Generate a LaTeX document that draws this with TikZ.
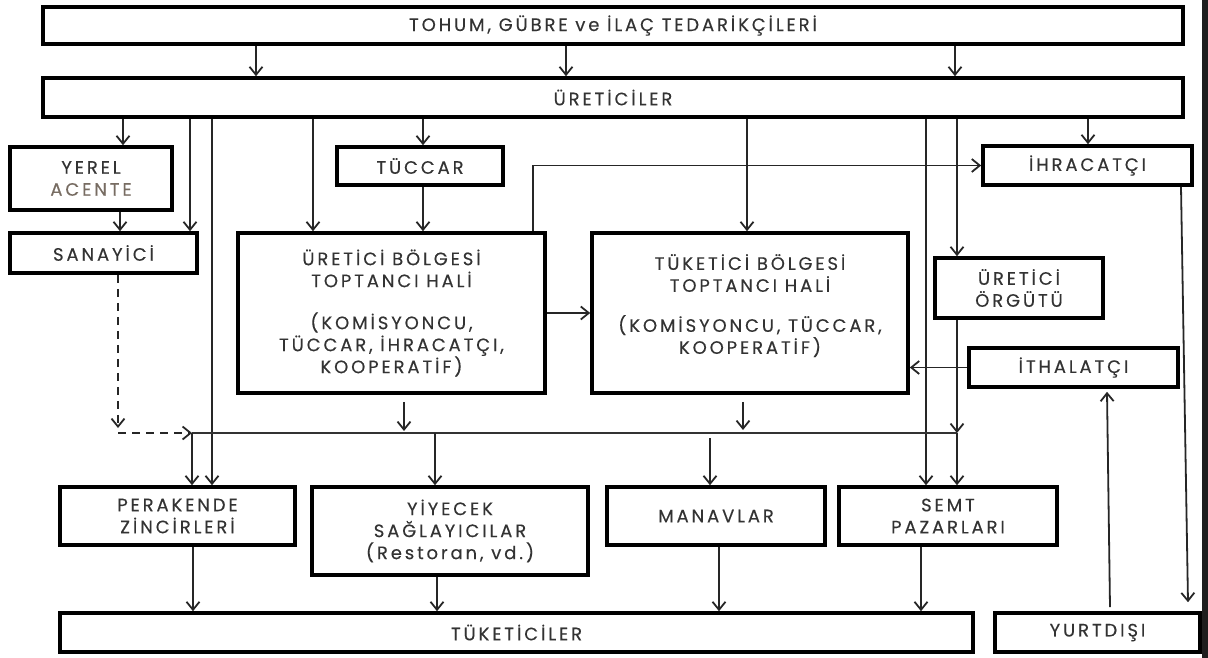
\documentclass[tikz,border=0pt]{standalone}
\usepackage{fontspec}
\setmainfont[LetterSpace=16,FakeBold=0.3]{Poppins}
\usepackage{tikz}
\usetikzlibrary{positioning,arrows.meta,calc}
\definecolor{inkdark}{HTML}{333333}
\definecolor{acentegray}{HTML}{776C62}
\definecolor{edgeband}{HTML}{1E1E1E}
\tikzset{
  >={Straight Barb[length=8pt,width=13pt]},
  every node/.style={font=\fontsize{18}{22}\selectfont, text=inkdark},
  kutu/.style={draw=black, line width=3.6pt, align=center, inner sep=1pt},
  flow/.style={->, line width=1.8pt, draw=black!85},
  dflow/.style={flow, dash pattern=on 8pt off 6pt},
  hat/.style={line width=1.2pt, draw=black!80},
}

\begin{document}
\begin{tikzpicture}[x=1pt, y=-1pt]
  \useasboundingbox (0,0) rectangle (1208,658);
  \fill[edgeband] (1202,0) rectangle (1208,658);

  % 1. TEDARIKCILER VE URETICILER
  \node[kutu, minimum width=1140pt, minimum height=37pt] (tedarik) at (613,25.5) {TOHUM, GÜBRE ve İLAÇ TEDARİKÇİLERİ};
  \node[kutu, minimum width=1140pt, minimum height=39pt] (uretici) at (613,97.5) {ÜRETİCİLER};

  % 2. ARACILAR
  \node[kutu, minimum width=162pt, minimum height=63pt] (acente) at (91,178.5) {YEREL\\ \textcolor{acentegray}{ACENTE}};
  \node[kutu, minimum width=166pt, minimum height=38pt] (tuccar) at (420,166) {TÜCCAR};
  \node[kutu, minimum width=209pt, minimum height=39pt] (ihr) at (1087.5,165.5) {İHRACATÇI};
  \node[kutu, minimum width=187pt, minimum height=40pt] (sanayi) at (103.5,253) {SANAYİCİ};

  % 3. TOPTANCI HALLERI
  \node[kutu, minimum width=307pt, minimum height=160pt] (ubh) at (391.5,313)
    {ÜRETİCİ BÖLGESİ\\ TOPTANCI HALİ\\[20pt] (KOMİSYONCU,\\ TÜCCAR, İHRACATÇI,\\ KOOPERATİF)};
  \node[kutu, minimum width=316pt, minimum height=160pt] (tbh) at (750,313)
    {TÜKETİCİ BÖLGESİ\\ TOPTANCI HALİ\\[18pt] (KOMİSYONCU, TÜCCAR,\\ KOOPERATİF)\\[-4pt] \mbox{}};
  \node[kutu, minimum width=168pt, minimum height=60pt] (orgut) at (1019,288) {ÜRETİCİ\\ ÖRGÜTÜ};
  \node[kutu, minimum width=209pt, minimum height=39pt] (ithal) at (1073.5,367.5) {İTHALATÇI};

  % 4. PERAKENDE SIRASI
  \node[kutu, minimum width=235pt, minimum height=58pt] (perak) at (177.5,516) {PERAKENDE\\ ZİNCİRLERİ};
  \node[kutu, minimum width=276pt, minimum height=88pt] (yiyecek) at (450,531) {YİYECEK\\ SAĞLAYICILAR\\ (Restoran, vd.)};
  \node[kutu, minimum width=218pt, minimum height=58pt] (manav) at (716,516) {MANAVLAR};
  \node[kutu, minimum width=218pt, minimum height=58pt] (semt) at (948,516) {SEMT\\ PAZARLARI};

  % 5. TUKETICILER VE YURTDISI
  \node[kutu, minimum width=913pt, minimum height=39pt] (tuket) at (516.5,632.5) {TÜKETİCİLER};
  \node[kutu, minimum width=205pt, minimum height=39pt] (yurt) at (1097.5,632.5) {YURTDIŞI};

  % dagitim hatti noktalari
  \coordinate (kose) at (118,433);
  \coordinate (hatsol) at (192,433);
  \coordinate (hatsag) at (957,433);

  % ==========================================
  % AKIS OKLARI
  % ==========================================
  \draw[flow] (tedarik.south -| 256,0) -- (uretici.north -| 256,0);
  \draw[flow] (tedarik.south -| 566,0) -- (uretici.north -| 566,0);
  \draw[flow] (tedarik.south -| 955,0) -- (uretici.north -| 955,0);

  \draw[flow] (uretici.south -| 123,0) -- (acente.north -| 123,0);
  \draw[flow] (uretici.south -| 190,0) -- (sanayi.north -| 190,0);
  \draw[flow] (uretici.south -| 212,0) -- (perak.north -| 212,0);
  \draw[flow] (uretici.south -| 313,0) -- (ubh.north -| 313,0);
  \draw[flow] (uretici.south -| 423,0) -- (tuccar.north -| 423,0);
  \draw[flow] (uretici.south -| 747,0) -- (tbh.north -| 747,0);
  \draw[flow] (uretici.south -| 926,0) -- (semt.north -| 926,0);
  \draw[flow] (uretici.south -| 957,0) -- (orgut.north -| 957,0);
  \draw[flow] (uretici.south -| 1088,0) -- (ihr.north -| 1088,0);

  \draw[flow] (acente.south -| 120,0) -- (sanayi.north -| 120,0);
  \draw[flow] (tuccar.south -| 423,0) -- (ubh.north -| 423,0);
  \draw[flow] (ubh.north -| 533,0) |- (ihr.west);
  \draw[flow] (ubh) -- (tbh);
  \draw[flow] (ithal.west) -- (ithal.west -| tbh.east);

  % kesikli yol ve dagitim hatti
  \draw[dflow] (sanayi.south -| kose) -- ($(kose)+(0,-5)$);
  \draw[dflow] (kose) -- (hatsol);
  \draw[hat] (hatsol) -- (hatsag);

  \draw[flow] ($(ubh.south -| 404,0)+(0,7)$) -- ($(hatsol -| 404,0)+(0,-2)$);
  \draw[flow] ($(tbh.south -| 743,0)+(0,7)$) -- ($(hatsol -| 743,0)+(0,-3)$);
  \draw[flow] (orgut.south -| hatsag) -- (hatsag);
  \draw[flow] (hatsag) -- (semt.north -| hatsag);
  \draw[flow] (hatsol) -- (perak.north -| hatsol);
  \draw[flow] (hatsol -| 435,0) -- (yiyecek.north -| 435,0);
  \draw[flow] ($(hatsol -| 710,0)+(0,5)$) -- (manav.north -| 710,0);

  % tuketicilere
  \draw[flow] (perak.south -| 193,0) -- (tuket.north -| 193,0);
  \draw[flow] (yiyecek.south -| 437,0) -- (tuket.north -| 437,0);
  \draw[flow] (manav.south -| 719,0) -- (tuket.north -| 719,0);
  \draw[flow] (semt.south -| 921,0) -- (tuket.north -| 921,0);

  % yurtdisi baglantilari
  \draw[flow] (ihr.south -| 1181,0) -- ($(yurt.north -| 1188,0)+(0,-9)$);
  \draw[flow] ($(yurt.north -| 1110,0)+(0,-4)$) -- ($(ithal.south -| 1107,0)+(0,3)$);
\end{tikzpicture}
\end{document}
